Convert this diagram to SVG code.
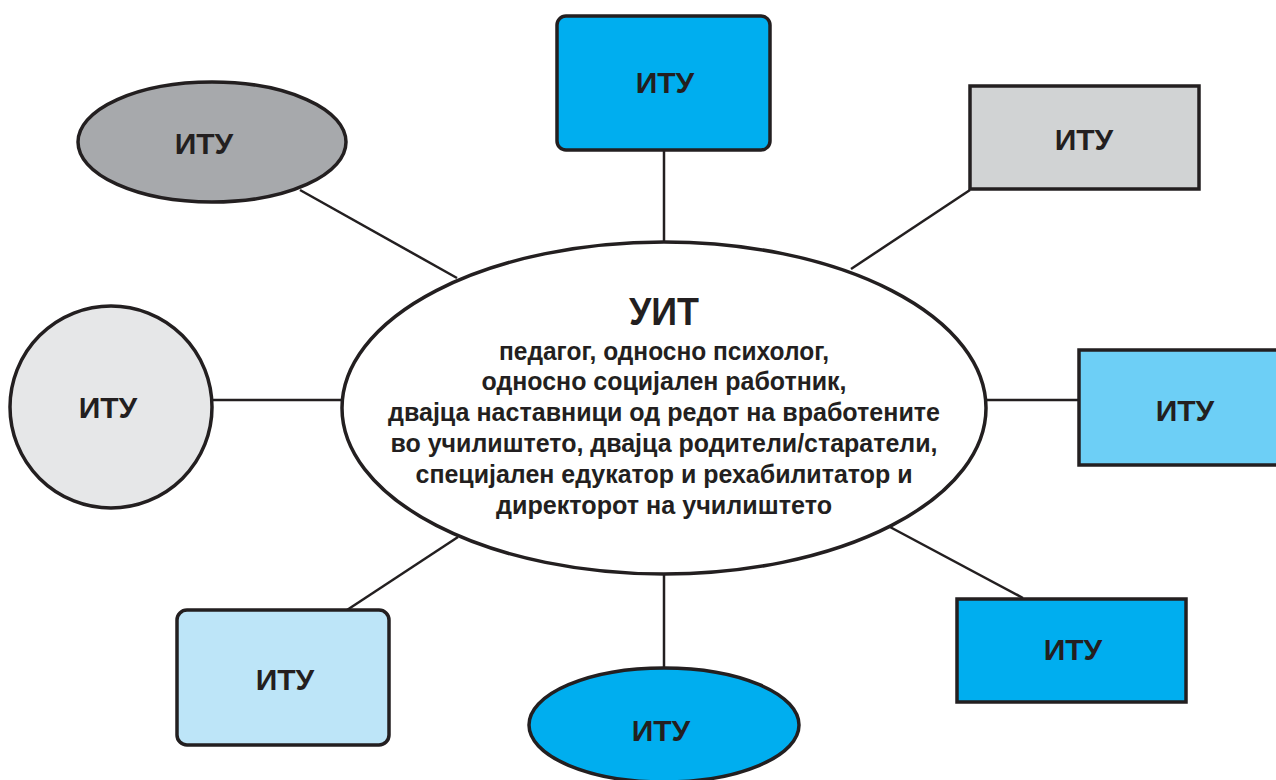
<svg xmlns="http://www.w3.org/2000/svg" width="1276" height="780" viewBox="0 0 1276 780">
<style>
.s{stroke:#231f20;stroke-width:3.5}
.c{stroke:#231f20;stroke-width:2.5;fill:none}
.t{font-family:"Liberation Sans",Arial,sans-serif;font-weight:bold;font-size:30px;fill:#231f20;text-anchor:middle}
.b{font-family:"Liberation Sans",Arial,sans-serif;font-weight:bold;font-size:26px;fill:#231f20;text-anchor:middle}
</style>
<rect width="1276" height="780" fill="#ffffff"/>
<g id="connectors">
<line class="c" x1="664" y1="151" x2="664" y2="243"/>
<line class="c" x1="970" y1="190" x2="851" y2="269"/>
<line class="c" x1="986" y1="400" x2="1078" y2="400"/>
<line class="c" x1="890" y1="527" x2="1023" y2="598"/>
<line class="c" x1="664" y1="574" x2="664" y2="668"/>
<line class="c" x1="458" y1="537" x2="347" y2="610"/>
<line class="c" x1="213" y1="400" x2="342" y2="400"/>
<line class="c" x1="300" y1="190" x2="457" y2="278"/>
</g>
<g id="center">
<ellipse class="s" cx="664" cy="408" rx="322" ry="166" fill="#ffffff"/>
<text class="t" x="664" y="325" textLength="70" lengthAdjust="spacingAndGlyphs" style="font-size:39px">УИТ</text>
<text class="b" x="664" y="360" textLength="330" lengthAdjust="spacingAndGlyphs">педагог, односно психолог,</text>
<text class="b" x="664" y="390" textLength="365" lengthAdjust="spacingAndGlyphs">односно социјален работник,</text>
<text class="b" x="664" y="421" textLength="552" lengthAdjust="spacingAndGlyphs">двајца наставници од редот на вработените</text>
<text class="b" x="664" y="452" textLength="547" lengthAdjust="spacingAndGlyphs">во училиштето, двајца родители/старатели,</text>
<text class="b" x="664" y="483" textLength="497" lengthAdjust="spacingAndGlyphs">специјален едукатор и рехабилитатор и</text>
<text class="b" x="664" y="514" textLength="336" lengthAdjust="spacingAndGlyphs">директорот на училиштето</text>
</g>
<g id="n-top">
<rect class="s" x="557" y="16" width="213" height="134" rx="9" fill="#00aeef"/>
<text class="t" x="665" y="93">ИТУ</text>
</g>
<g id="n-topright">
<rect class="s" x="970" y="86" width="229" height="103" fill="#d1d3d4"/>
<text class="t" x="1084" y="150">ИТУ</text>
</g>
<g id="n-right">
<rect class="s" x="1079" y="350" width="205" height="115" fill="#6dcff6"/>
<text class="t" x="1185" y="421">ИТУ</text>
</g>
<g id="n-bottomright">
<rect class="s" x="957" y="599" width="229" height="103" fill="#00aeef"/>
<text class="t" x="1073" y="660">ИТУ</text>
</g>
<g id="n-bottom">
<ellipse class="s" cx="664" cy="725" rx="135" ry="57" fill="#00aeef"/>
<text class="t" x="661" y="741">ИТУ</text>
</g>
<g id="n-bottomleft">
<rect class="s" x="177" y="610" width="212" height="135" rx="10" fill="#bde5f8"/>
<text class="t" x="285" y="690">ИТУ</text>
</g>
<g id="n-left">
<circle class="s" cx="111" cy="407" r="101" fill="#e6e7e8"/>
<text class="t" x="108" y="418">ИТУ</text>
</g>
<g id="n-topleft">
<ellipse class="s" cx="212" cy="142" rx="134" ry="60" fill="#a7a9ac"/>
<text class="t" x="204" y="154">ИТУ</text>
</g>
</svg>
